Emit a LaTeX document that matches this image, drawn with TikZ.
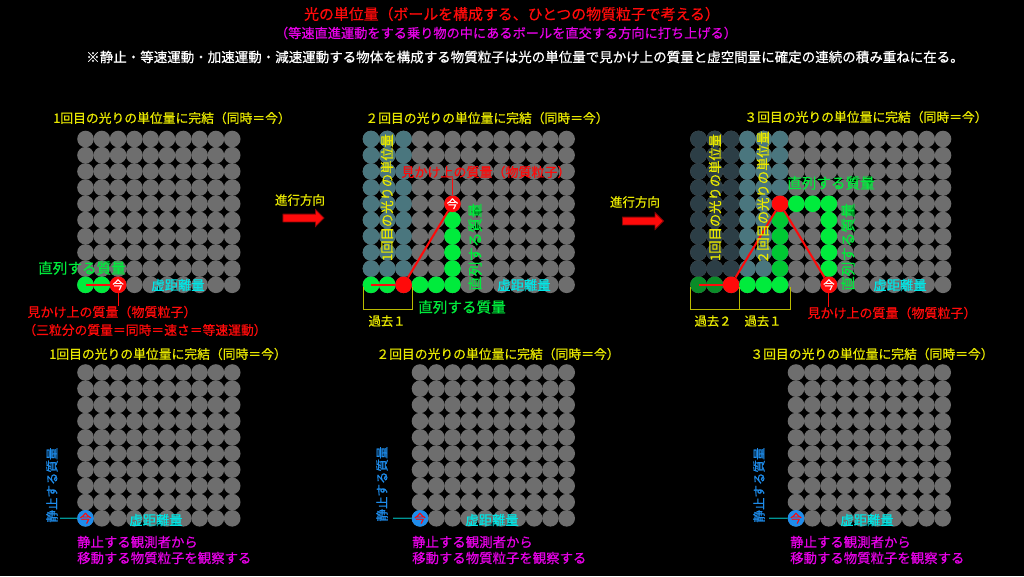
\documentclass[tikz,border=0pt]{standalone}
\usepackage{fontspec}
\setmainfont{Noto Sans CJK JP}[FakeBold=0.6]
\usetikzlibrary{shapes.arrows}
\definecolor{gry}{RGB}{110,110,110}
\definecolor{tealA}{RGB}{74,118,126}
\definecolor{slateA}{RGB}{44,62,70}
\definecolor{grn}{RGB}{0,235,60}
\definecolor{dgrn}{RGB}{10,140,40}
\definecolor{rd}{RGB}{255,10,10}
\definecolor{ylw}{RGB}{232,232,0}
\definecolor{cyn}{RGB}{0,230,230}
\definecolor{mgt}{RGB}{230,0,230}
\definecolor{blu}{RGB}{30,140,235}
\definecolor{obsline}{RGB}{0,150,150}
\newcommand{\ballgrid}[4]{\foreach \i in {0,...,#4} {\foreach \j in {0,...,9} {\node[ball] (#1-\i-\j) at ({#2+16.3*\i},{#3+16.2*\j}) {};}}}
\newcommand{\ball}[4]{\node[ball,fill=#1] (#2-#3-#4) at (#2-#3-#4) {};}
\newcommand{\nowball}[5]{\node[ball,fill=#1,text=#2] (#3-#4-#5) at (#3-#4-#5) {今};}
\tikzset{
  ball/.style={circle, fill=gry, minimum size=16.6pt, inner sep=0pt, font=\fontsize{11.5}{11.5}\selectfont},
  ttl/.style={text=ylw, inner sep=0pt, font=\fontsize{12.8}{14}\selectfont},
  vlabl/.style={text=ylw, inner sep=0pt, rotate=90, font=\fontsize{13.3}{14}\selectfont},
  serial/.style={text=grn, inner sep=0pt, font=\fontsize{14.6}{16}\selectfont},
  vserial/.style={serial, rotate=90},
  imag/.style={text=cyn, inner sep=0pt, font=\fontsize{13.3}{14}\selectfont},
  appar/.style={text=rd, inner sep=0pt, font=\fontsize{13}{14}\selectfont},
  still/.style={text=blu, inner sep=0pt, rotate=90, font=\fontsize{12.5}{14}\selectfont},
  obs/.style={text=mgt, inner sep=0pt, anchor=west, font=\fontsize{13.4}{15}\selectfont},
  past/.style={text=ylw, inner sep=0pt, font=\fontsize{12.3}{14}\selectfont},
  brkt/.style={draw=ylw!80!black, line width=1pt},
  path1/.style={draw=rd, line width=2pt},
  tick/.style={draw=rd, line width=1pt},
  fwdarrow/.style={single arrow, fill=rd, draw=rd!55!black, line width=0.8pt, minimum height=41pt, inner sep=3.5pt, single arrow head extend=4.5pt},
}
\begin{document}
\begin{tikzpicture}[x=1pt,y=-1pt]
  \fill[black] (0,0) rectangle (1024,576);
  \useasboundingbox (0,0) rectangle (1024,576);

  % heading
  \node[text=rd, font=\fontsize{14.9}{16}\selectfont] (head1) at (512,14) {光の単位量（ボールを構成する、ひとつの物質粒子で考える）};
  \node[text=mgt, font=\fontsize{13.2}{15}\selectfont] (head2) at (506,33) {（等速直進運動をする乗り物の中にあるボールを直交する方向に打ち上げる）};
  \node[text=white, font=\fontsize{13.5}{15}\selectfont] (head3) at (525,57) {※静止・等速運動・加速運動・減速運動する物体を構成する物質粒子は光の単位量で見かけ上の質量と虚空間量に確定の連続の積み重ねに在る。};

  % panel A (1st)
  \node[ttl] (ttlA) at (172,118) {1回目の光りの単位量に完結（同時＝今）};
  \ballgrid{A}{85.5}{139}{9}
  \ball{grn}{A}{0}{9}
  \ball{grn}{A}{1}{9}
  \draw[path1, line width=1.5pt] (A-0-9.center) -- (A-1-9.east);
  \nowball{rd}{white}{A}{2}{9}
  \node[serial] (serA) at (82,268) {直列する質量};
  \node[imag] (imgA) at (178,285) {虚距離量};
  \node[appar] (mA) at (112,312) {見かけ上の質量（物質粒子）};
  \node[appar, font=\fontsize{12.8}{14}\selectfont] (mA2) at (145,330) {（三粒分の質量＝同時＝速さ＝等速運動）};
  \draw[tick] (A-2-9.south) -- (A-2-9.south |- mA.north);

  % direction 1
  \node[ttl, font=\fontsize{12.5}{14}\selectfont] (dirA) at (300,200) {進行方向};
  \node[fwdarrow] (arrA) at (301.5,218) {};

  % panel B (2nd)
  \node[ttl] (ttlB) at (487,118) {２回目の光りの単位量に完結（同時＝今）};
  \ballgrid{B}{371}{139}{12}
  \foreach \i in {0,1,2} {\foreach \j in {0,...,8} {\ball{tealA}{B}{\i}{\j}}}
  \foreach \i in {0,1,3,4,5} {\ball{grn}{B}{\i}{9}}
  \foreach \j in {5,...,8} {\ball{grn}{B}{5}{\j}}
  \ball{rd}{B}{2}{9}
  \nowball{rd}{white}{B}{5}{4}
  \draw[path1, line width=1.5pt] (B-0-9.center) -- (B-2-9);
  \draw[path1] (B-2-9) -- (B-5-4);
  \node[vlabl] (vB1) at (387,197.5) {1回目の光りの単位量};
  \node[appar] (mB) at (486,172) {見かけ上の質量（物質粒子）};
  \draw[tick] (B-5-4.north) -- (B-5-4.north |- mB.south);
  \node[vserial] (vserB) at (475,247) {直列する質量};
  \node[imag] (imgB) at (524,285) {虚距離量};
  \node[serial] (serB) at (462,307) {直列する質量};
  \draw[brkt] (363,287) |- (412,309) -- (412,287);
  \node[past] (pastB1) at (387,321) {過去１};

  % direction 2
  \node[ttl, font=\fontsize{12.5}{14}\selectfont] (dirC) at (635,202) {進行方向};
  \node[fwdarrow] (arrC) at (641,221) {};

  % panel C (3rd)
  \node[ttl] (ttlC) at (866,117) {３回目の光りの単位量に完結（同時＝今）};
  \ballgrid{C}{698.5}{139}{15}
  \foreach \i in {0,1,2} {\foreach \j in {0,...,8} {\ball{slateA}{C}{\i}{\j}}}
  \foreach \i in {3,4,5} {\foreach \j in {0,...,8} {\ball{tealA}{C}{\i}{\j}}}
  \ball{dgrn}{C}{0}{9}
  \ball{dgrn}{C}{1}{9}
  \ball{rd}{C}{2}{9}
  \foreach \i in {3,4,5} {\ball{grn}{C}{\i}{9}}
  \foreach \j in {5,...,8} {\ball{grn!85!black}{C}{5}{\j}}
  \ball{rd}{C}{5}{4}
  \foreach \i in {6,7,8} {\ball{grn}{C}{\i}{4}}
  \foreach \j in {5,...,8} {\ball{grn}{C}{8}{\j}}
  \nowball{rd}{white}{C}{8}{9}
  \draw[path1, line width=1.5pt] (C-0-9.center) -- (C-2-9);
  \draw[path1] (C-2-9) -- (C-5-4);
  \draw[path1] (C-5-4) -- (C-8-9);
  \node[vlabl] (vC1) at (715,197.5) {1回目の光りの単位量};
  \node[vlabl] (vC2) at (763,197.5) {２回目の光りの単位量};
  \node[serial] (serC) at (831,183) {直列する質量};
  \node[vserial] (vserC) at (848,247) {直列する質量};
  \node[imag] (imgC) at (900,285) {虚距離量};
  \node[appar] (mC) at (892,313) {見かけ上の質量（物質粒子）};
  \draw[tick] (C-8-9.south) -- (C-8-9.south |- mC.north);
  \draw[brkt] (690,287) |- (739,309) -- (739,287);
  \draw[brkt] (739,309) -| (790,287);
  \node[past] (pastC2) at (713,321) {過去２};
  \node[past] (pastC1) at (763,321) {過去１};

  % panel D (1st, still)
  \node[ttl] (ttlD) at (168,354) {1回目の光りの単位量に完結（同時＝今）};
  \ballgrid{D}{85.5}{372.5}{9}
  \nowball{blu}{rd}{D}{0}{9}
  \node[still] (stD) at (52,485) {静止する質量};
  \coordinate (obsD) at (60,518.3);
  \draw[obsline, line width=1.2pt] (obsD) -- (D-0-9);
  \node[imag] (imgD) at (156,520) {虚距離量};
  \node[obs] (oD1) at (77,542) {静止する観測者から};
  \node[obs] (oD2) at (77,558) {移動する物質粒子を観察する};

  % panel E (2nd, still)
  \node[ttl] (ttlE) at (498,354) {２回目の光りの単位量に完結（同時＝今）};
  \ballgrid{E}{420}{372.5}{9}
  \nowball{blu}{rd}{E}{0}{9}
  \node[still] (stE) at (382,484) {静止する質量};
  \coordinate (obsE) at (393,518.3);
  \draw[obsline, line width=1.2pt] (obsE) -- (E-0-9);
  \node[imag] (imgE) at (492,520) {虚距離量};
  \node[obs] (oE1) at (412,542) {静止する観測者から};
  \node[obs] (oE2) at (412,558) {移動する物質粒子を観察する};

  % panel F (3rd, still)
  \node[ttl] (ttlF) at (872,354) {３回目の光りの単位量に完結（同時＝今）};
  \ballgrid{F}{796}{372.5}{9}
  \nowball{blu}{rd}{F}{0}{9}
  \node[still] (stF) at (759,485) {静止する質量};
  \coordinate (obsF) at (769,518.3);
  \draw[obsline, line width=1.2pt] (obsF) -- (F-0-9);
  \node[imag] (imgF) at (867,520) {虚距離量};
  \node[obs] (oF1) at (790,542) {静止する観測者から};
  \node[obs] (oF2) at (790,558) {移動する物質粒子を観察する};
\end{tikzpicture}
\end{document}
